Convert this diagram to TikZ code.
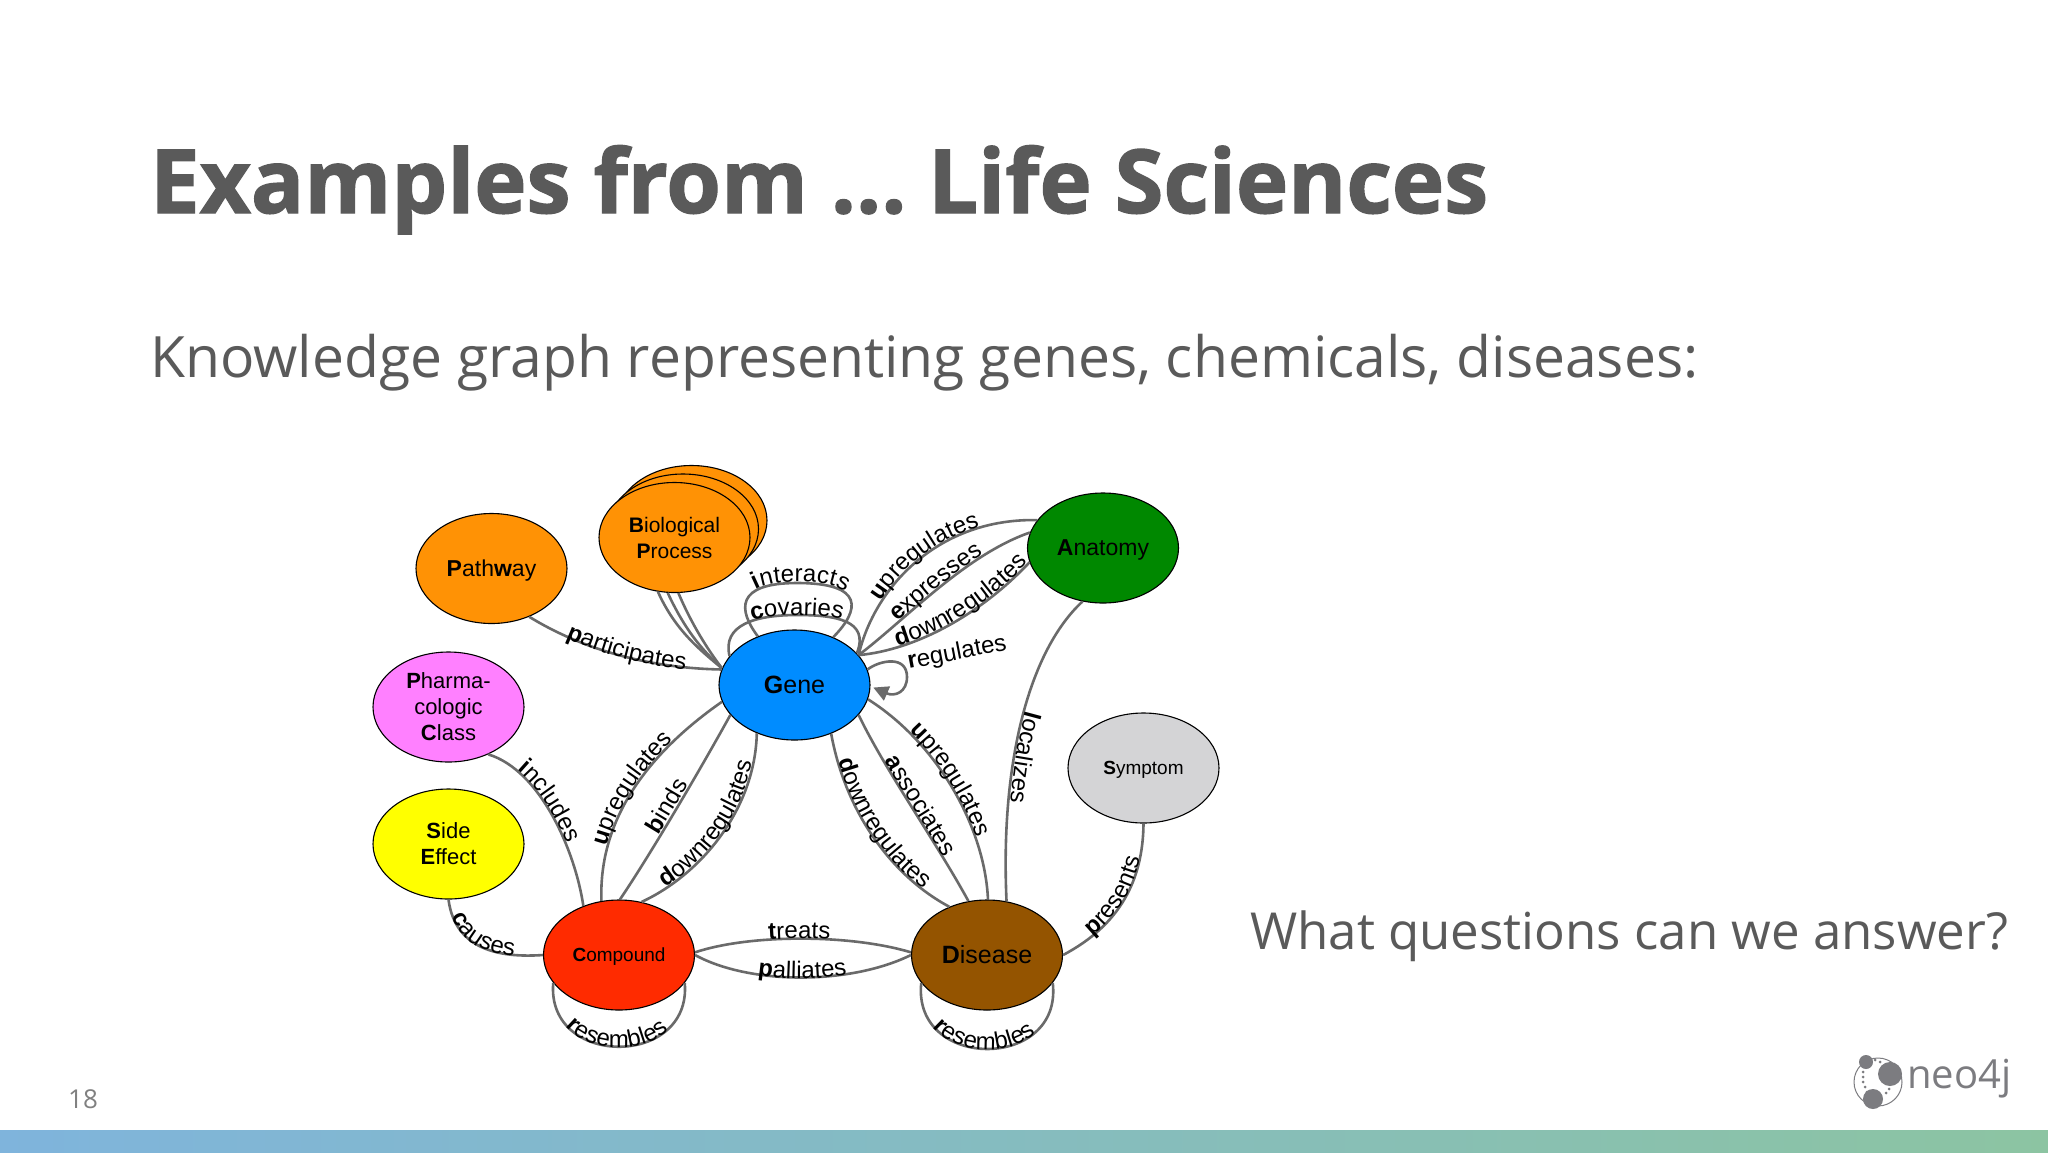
\documentclass[tikz,border=0pt]{standalone}
\usepackage{fontspec}
\setmainfont{Liberation Sans}
\newfontfamily\osans{Open Sans}
\newfontfamily\osansb{Open Sans Bold}[FakeBold=1.5]
\usetikzlibrary{arrows.meta,decorations.text,shapes.geometric}
\definecolor{slidegrey}{HTML}{5A5A5A}
\definecolor{edgegrey}{HTML}{6A6A6A}
\definecolor{barblue}{HTML}{7FB4DC}
\definecolor{bargreen}{HTML}{8CC4A2}
\definecolor{logogrey}{HTML}{7C7C80}
\definecolor{corange}{RGB}{255,146,5}
\definecolor{cblue}{RGB}{0,140,255}
\definecolor{cgreen}{RGB}{0,136,0}
\definecolor{cpink}{RGB}{255,128,255}
\definecolor{cyell}{RGB}{255,255,0}
\definecolor{cred}{RGB}{255,43,0}
\definecolor{cbrown}{RGB}{148,84,0}
\definecolor{cgrey}{RGB}{212,212,214}
\newcommand\lf{\fontsize{24}{28}\selectfont\color{black}}
\tikzset{
  x=1pt,y=-1pt,
  ent/.style={ellipse,draw=black,line width=1.1pt,minimum width=151pt,minimum height=110pt,inner sep=0pt,align=center,text=black,font=\fontsize{#1}{26}\selectfont},
  ent/.default=23,
  oneline/.style={text depth=-2pt},
  edge/.style={draw=edgegrey,line width=2.6pt},
  lab/.style n args={4}{postaction={decorate,decoration={text along path,text align={left indent=#1},raise=#2,text={|\lf\bfseries|#3|\lf|#4}}}},
  slide/.style={anchor=base west,text=slidegrey,inner sep=0pt},
}
\begin{document}
\begin{tikzpicture}
\useasboundingbox (0,0) rectangle (2048,1152);
\fill[white] (0,0) rectangle (2048,1152);
\shade[left color=barblue,right color=bargreen] (0,1130) rectangle (2048,1152);

\node[slide,font=\osansb\fontsize{88.5}{100}\selectfont] (title) at (150,213) {Examples from ...\hspace{-9pt} Life Sciences};
\node[slide,font=\osans\fontsize{57}{70}\selectfont] (sub) at (150,377.5) {Knowledge graph representing genes, chemicals, diseases:};
\node[slide,font=\osans\fontsize{51}{64}\selectfont] (question) at (1250,949) {What questions can we answer?};
\node[slide,font=\osans\fontsize{26}{28}\selectfont,text=gray] (page) at (68,1108) {18};

\node[ent,fill=corange] (bp3) at (691.5,520.5) {};
\node[ent,fill=corange] (bp2) at (683,529) {};
\node[ent,oneline,fill=corange] (path) at (491.5,568.5) {\textbf{P}ath\textbf{w}ay};
\node[ent=21,fill=corange] (bp) at (674.5,537.5) {\textbf{B}iological\\\textbf{P}rocess};
\node[ent=25,fill=cblue] (gene) at (794.5,685) {\textbf{G}ene};
\node[ent,oneline,fill=cgreen] (anat) at (1103,548) {\textbf{A}natomy};
\node[ent=22,fill=cpink] (pharm) at (448.5,707) {\textbf{P}harma-\\cologic\\\textbf{C}lass};
\node[ent=22,fill=cyell] (side) at (448.5,844) {\textbf{S}ide\\\textbf{E}ffect};
\node[ent=19,oneline,fill=cred] (comp) at (619,955) {\textbf{C}ompound};
\node[ent=25,fill=cbrown] (dis) at (987,955) {\textbf{D}isease};
\node[ent=19,oneline,fill=cgrey] (symp) at (1143.5,768) {\textbf{S}ymptom};

% Gene -- upper left
\draw[edge,lab={42pt}{-2pt}{p}{articipates}] (path.-52) .. controls (575,645) and (640,668) .. (gene.168);
\draw[edge] (bp.-107) .. controls (675,630) and (700,650) .. (gene.167);
\draw[edge] (bp.-97) .. controls (685,630) and (702,650) .. (gene.167);
\draw[edge] (bp.-86) .. controls (692,625) and (708,650) .. (gene.167);
% self loops
\draw[edge,lab={53pt}{1pt}{i}{nteracts}] (gene.127) .. controls (738,610) and (735,583) .. (797,583) .. controls (865,583) and (860,610) .. (gene.51);
\draw[edge,lab={47pt}{0pt}{c}{ovaries}] (gene.156) .. controls (722,625) and (755,615) .. (797,615) .. controls (835,615) and (870,620) .. (gene.27);
% Gene -- Anatomy
\draw[edge,lab={58pt}{1pt}{u}{pregulates}] (gene.25) .. controls (875,585) and (940,518) .. (anat.157);
\draw[edge,lab={51pt}{1pt}{e}{xpresses}] (gene.25) .. controls (905,620) and (965,555) .. (anat.168);
\draw[edge,lab={40pt}{1pt}{d}{ownregulates}] (gene.25) .. controls (915,650) and (980,615) .. (anat.-169);
\draw[edge,-{Triangle[length=15pt,width=15pt]},shorten >=3pt] (gene.12) .. controls (880,660) and (907,655) .. (907,677) .. controls (907,692) and (895,697) .. (gene.-1);
\node[rotate=11,anchor=base west,inner sep=0pt,text=black,font=\lf] (reglab) at (909,669) {\textbf{r}egulates};
% localizes, Gene -- Disease
\draw[edge,lab={125pt}{2pt}{l}{ocalizes}] (anat.-111) .. controls (1030,650) and (1000,760) .. (dis.70);
\draw[edge,lab={52pt}{1pt}{u}{pregulates}] (gene.-11.5) .. controls (940,745) and (985,830) .. (dis.89);
\draw[edge,lab={53pt}{1pt}{a}{ssociates}] (gene.-25) .. controls (885,770) and (935,840) .. (dis.109);
\draw[edge,lab={28pt}{1pt}{d}{ownregulates}] (gene.-53) .. controls (845,810) and (890,875) .. (dis.128);
% Compound
\draw[edge,lab={33pt}{1pt}{i}{ncludes}] (pharm.-50) .. controls (540,770) and (575,850) .. (comp.126);
\draw[edge,lab={55pt}{1pt}{u}{pregulates}] (comp.108) .. controls (598,810) and (660,745) .. (gene.-167);
\draw[edge,lab={75pt}{2pt}{b}{inds}] (comp.89) .. controls (650,855) and (700,770) .. (gene.-155);
\draw[edge,lab={28pt}{1pt}{d}{ownregulates}] (comp.67) .. controls (700,875) and (755,810) .. (gene.-128);
\draw[edge,lab={17pt}{-1pt}{c}{auses}] (side.-90) .. controls (455,950) and (500,958) .. (comp.180);
\draw[edge,lab={75pt}{0pt}{t}{reats}] (comp.2) .. controls (750,934) and (850,934) .. (dis.178);
\draw[edge,lab={66pt}{-1pt}{p}{alliates}] (comp.0) .. controls (750,985) and (850,985) .. (dis.180);
\draw[edge,lab={46pt}{-1pt}{r}{esembles}] (comp.-157) .. controls (546,1068) and (692,1068) .. (comp.-23);
\draw[edge,lab={47pt}{-1pt}{r}{esembles}] (dis.-157) .. controls (912,1071) and (1063,1071) .. (dis.-23);
\draw[edge,lab={35pt}{0pt}{p}{resents}] (dis.0) .. controls (1120,925) and (1143,880) .. (symp.-90);

% neo4j logo
\draw[logogrey,line width=1pt] (1878,1082) circle[radius=24];
\fill[logogrey] (1890,1074) circle[radius=12] (1866,1062) circle[radius=7] (1873,1099) circle[radius=10];
\foreach \p in {(1875,1060),(1880,1062),(1863,1072),(1863,1077),(1863,1082),(1865,1087),(1867,1092),(1886,1093),(1889,1089)} \fill[logogrey] \p circle[radius=1.5];
\node[anchor=base west,inner sep=0pt,text=logogrey,font=\osans\fontsize{40}{44}\selectfont] (logotext) at (1907,1088) {neo4j};
\end{tikzpicture}
\end{document}
